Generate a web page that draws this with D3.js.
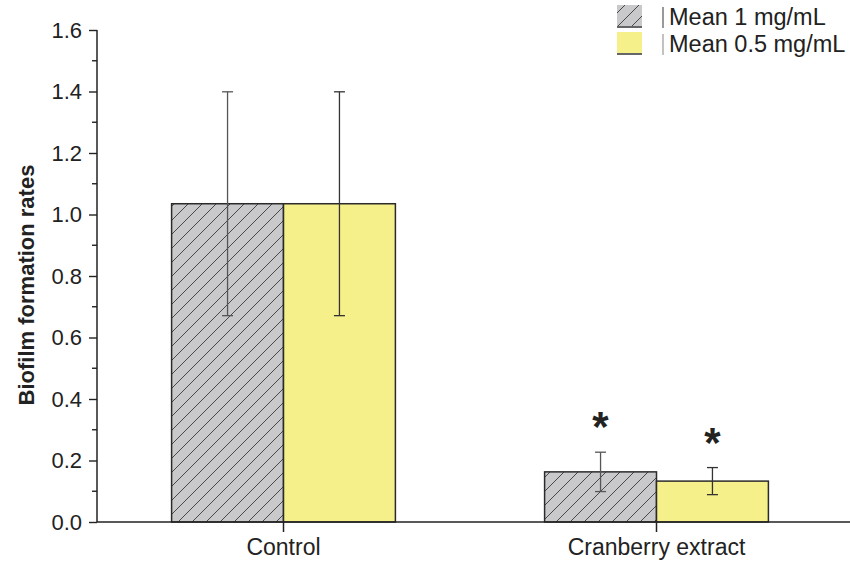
<!DOCTYPE html>
<html>
<head>
<meta charset="utf-8">
<script src="https://cdn.jsdelivr.net/npm/d3@7/dist/d3.min.js"></script>
<style>
  html, body { margin: 0; padding: 0; background: #fff; }
  svg { display: block; font-family: Arial, "Liberation Sans", sans-serif; }
</style>
</head>
<body>
<svg id="chart" width="850" height="571"></svg>
<script>
// Biofilm formation rates by treatment and concentration
const categories = ["Control", "Cranberry extract"];
const seriesNames = ["Mean 1 mg/mL", "Mean 0.5 mg/mL"];
const mean1 = [1.035, 0.163];
const mean05 = [1.035, 0.133];
const err1 = [0.364, 0.064];
const err05 = [0.364, 0.044];
const significant1 = [false, true];
const significant05 = [false, true];
const yTicks = [0.0, 0.2, 0.4, 0.6, 0.8, 1.0, 1.2, 1.4, 1.6];
const yMinorTicks = [0.1, 0.3, 0.5, 0.7, 0.9, 1.1, 1.3, 1.5];

const svg = d3.select("#chart");
const FONT = "Arial, 'Liberation Sans', sans-serif";

const y = d3.scaleLinear().domain([0, 1.6]).range([522, 30]);
const x = d3.scaleBand().domain(categories).range([97, 843]).paddingInner(0.4).paddingOuter(0.2);
const sub = d3.scaleBand().domain(seriesNames).range([0, x.bandwidth()]);

const defs = svg.append("defs");
const pat = defs.append("pattern")
  .attr("id", "hatch")
  .attr("patternUnits", "userSpaceOnUse")
  .attr("width", 14).attr("height", 14);
pat.append("rect").attr("width", 14).attr("height", 14).attr("fill", "#c9c9cb");
pat.append("path")
  .attr("d", "M0,14 L14,0 M-3.5,3.5 L3.5,-3.5 M10.5,17.5 L17.5,10.5")
  .attr("stroke", "#3a3a3a").attr("stroke-width", 0.9);

const fills = ["url(#hatch)", "#f5f08a"];
const series = [
  { name: seriesNames[0], values: mean1, errs: err1, sig: significant1, fill: fills[0] },
  { name: seriesNames[1], values: mean05, errs: err05, sig: significant05, fill: fills[1] }
];

// bars
series.forEach(s => {
  svg.append("g").selectAll("rect")
    .data(categories.map((c, i) => ({ c, v: s.values[i] })))
    .join("rect")
    .attr("x", d => x(d.c) + sub(s.name))
    .attr("y", d => y(d.v))
    .attr("width", sub.bandwidth())
    .attr("height", d => y(0) - y(d.v))
    .attr("fill", s.fill)
    .attr("stroke", "#2b2b2b")
    .attr("stroke-width", 1.5);
});

// error bars and significance marks
series.forEach((s, si) => {
  const g = svg.append("g").attr("stroke", si === 0 ? "#555" : "#333").attr("stroke-width", 1.3);
  categories.forEach((c, i) => {
    const cx = x(c) + sub(s.name) + sub.bandwidth() / 2;
    const hi = y(s.values[i] + s.errs[i]);
    const lo = y(s.values[i] - s.errs[i]);
    g.append("line").attr("x1", cx).attr("x2", cx).attr("y1", hi).attr("y2", lo);
    g.append("line").attr("x1", cx - 5.5).attr("x2", cx + 5.5).attr("y1", hi).attr("y2", hi);
    g.append("line").attr("x1", cx - 5.5).attr("x2", cx + 5.5).attr("y1", lo).attr("y2", lo);
    if (s.sig[i]) {
      svg.append("text")
        .attr("x", cx).attr("y", hi - 11)
        .attr("text-anchor", "middle")
        .attr("font-size", 42).attr("font-weight", "bold")
        .attr("font-family", FONT)
        .attr("fill", "#222")
        .text("*");
    }
  });
});

// y axis
const yAxis = d3.axisLeft(y).tickValues(yTicks).tickFormat(d3.format(".1f")).tickSize(8).tickPadding(7);
const gy = svg.append("g").attr("transform", "translate(97,0)").call(yAxis);
gy.select(".domain").attr("stroke", "#222").attr("stroke-width", 1.5).attr("d", "M0,30V522");
gy.selectAll(".tick line").attr("stroke", "#222").attr("stroke-width", 1.4);
gy.selectAll(".tick text").attr("font-size", 22).attr("fill", "#222").attr("font-family", FONT);
svg.append("g").selectAll("line").data(yMinorTicks).join("line")
  .attr("x1", 92).attr("x2", 97)
  .attr("y1", d => y(d)).attr("y2", d => y(d))
  .attr("stroke", "#222").attr("stroke-width", 1.4);

// x axis
const xAxis = d3.axisBottom(x).tickSize(10).tickPadding(7).tickSizeOuter(0);
const gx = svg.append("g").attr("transform", "translate(0,522)").call(xAxis);
gx.select(".domain").attr("stroke", "#222").attr("stroke-width", 1.5).attr("d", "M97,0H850");
gx.selectAll(".tick line").attr("stroke", "#222").attr("stroke-width", 1.5);
gx.selectAll(".tick text").attr("font-size", 23).attr("fill", "#222").attr("font-family", FONT);

// y axis title
svg.append("text")
  .attr("transform", "translate(34,285) rotate(-90)")
  .attr("text-anchor", "middle")
  .attr("font-size", 22).attr("font-weight", "bold").attr("fill", "#222")
  .attr("font-family", FONT)
  .text("Biofilm formation rates");

// legend
const legend = svg.append("g");
series.forEach((s, i) => {
  const ly = 5 + i * 27;
  legend.append("rect")
    .attr("x", 617).attr("y", ly).attr("width", 25).attr("height", 21)
    .attr("fill", s.fill);
  legend.append("line")
    .attr("x1", 617).attr("x2", 642).attr("y1", ly + 22).attr("y2", ly + 22)
    .attr("stroke", "#333").attr("stroke-width", 1.5);
  legend.append("line")
    .attr("x1", 663).attr("x2", 663).attr("y1", ly + 2).attr("y2", ly + 23)
    .attr("stroke", i === 0 ? "#555" : "#999").attr("stroke-width", 1.2);
  legend.append("text")
    .attr("x", 669).attr("y", ly + 20)
    .attr("font-size", 23.5).attr("fill", "#222")
    .attr("font-family", FONT)
    .text(s.name);
});
</script>
</body>
</html>
